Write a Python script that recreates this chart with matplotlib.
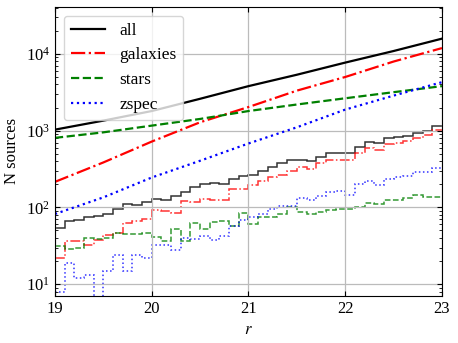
import numpy as np
import matplotlib
matplotlib.use('Agg')
import matplotlib.pyplot as plt

plt.rcParams['font.family'] = ['Liberation Serif', 'DejaVu Serif']
plt.rcParams['mathtext.fontset'] = 'stix'
plt.rcParams['font.size'] = 12

# %% data

# smooth model curves, sampled every 0.5 mag
r_model = [19.0, 19.5, 20.0, 20.5, 21.0, 21.5, 22.0, 22.5, 23.0]
all_model = [1030, 1350, 1800, 2600, 3800, 5350, 7700, 10900, 15800]
gal_model = [215, 385, 720, 1285, 2030, 3320, 5000, 7950, 11900]
star_model = [805, 950, 1162, 1420, 1800, 2190, 2640, 3170, 3800]
zspec_model = [82, 135, 245, 405, 680, 1105, 1880, 2860, 4280]

# histogram counts, 0.1 mag bins from 19 to 23
bin_edges = np.linspace(19, 23, 41)
all_hist = [54, 66, 68, 74, 78, 83, 95, 112, 107, 119,
            130, 124, 141, 161, 183, 200, 208, 202, 233, 259,
            264, 298, 338, 374, 414, 414, 398, 448, 505, 512,
            510, 605, 703, 683, 802, 835, 860, 922, 1000, 1150]
gal_hist = [22, 37, 36, 32, 38, 44, 47, 63, 66, 70,
            93, 91, 84, 121, 118, 130, 125, 124, 173, 176,
            195, 220, 250, 266, 300, 332, 316, 374, 414, 414,
            414, 505, 587, 565, 670, 697, 725, 800, 880, 1020]
star_hist = [31, 29, 30, 40, 39, 40, 47, 45, 45, 47,
             41, 36, 52, 37, 63, 52, 64, 67, 57, 84,
             60, 74, 74, 81, 100, 86, 81, 88, 93, 95,
             95, 101, 113, 110, 124, 124, 132, 145, 138, 138]
zspec_hist = [8, 19, 12, 13, 5, 15, 24, 15, 24, 22,
              32, 32, 28, 40, 39, 43, 38, 42, 57, 68,
              74, 81, 95, 105, 105, 134, 124, 141, 161, 165,
              147, 204, 220, 197, 236, 251, 258, 285, 285, 325]

labels = ['all', 'galaxies', 'stars', 'zspec']
colors = ['k', 'r', 'g', 'b']
styles = ['-', '-.', '--', ':']

# %% plot

fig, ax = plt.subplots(figsize=(4.58, 3.43), dpi=100)
fig.subplots_adjust(left=0.12, right=0.965, bottom=0.137, top=0.98)

models = [all_model, gal_model, star_model, zspec_model]
hists = [all_hist, gal_hist, star_hist, zspec_hist]

for model, lab, c, ls in zip(models, labels, colors, styles):
    ax.plot(r_model, model, color=c, ls=ls, lw=1.6, label=lab)

for hist, c, ls in zip(hists, colors, styles):
    ax.stairs(hist, bin_edges, baseline=None, color=c, ls=ls, lw=1.1, alpha=0.8)

ax.set_yscale('log')
ax.set_xlim(19, 23)
ax.set_ylim(7, 4.1e4)
ax.set_xticks([19, 20, 21, 22, 23])
ax.set_xlabel('$r$')
ax.set_ylabel('N sources')
ax.grid(True, color='#bbbbbb', lw=0.9)
ax.tick_params(which='both', direction='in', top=True, right=True)
ax.legend(loc='upper left', fontsize=12.5)

fig.savefig('out.png', dpi=100)
